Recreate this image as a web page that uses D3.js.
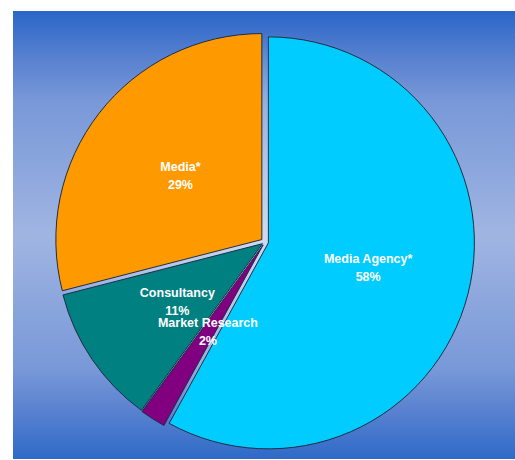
<!DOCTYPE html>
<html>
<head>
<meta charset="utf-8">
<script src="https://cdn.jsdelivr.net/npm/d3@7/dist/d3.min.js"></script>
<style>
  html, body { margin: 0; padding: 0; background: #ffffff; }
  svg { display: block; }
</style>
</head>
<body>
<svg id="chart" width="515" height="460"></svg>
<script>
// Share of respondents by sector
const categories = ["Media Agency*", "Market Research", "Consultancy", "Media*"];
const values = [58, 2, 11, 29];
const sliceColors = ["#00ccff", "#800080", "#008080", "#ff9900"];
const explode = [3.5, 3.5, 3, 4];

const svg = d3.select("#chart");
const panel = { x: 13, y: 11, w: 502, h: 448 };

const defs = svg.append("defs");

// vertical band: dark at top and bottom, light through the middle
const lg = defs.append("linearGradient")
  .attr("id", "bgVert").attr("x1", 0).attr("y1", 0).attr("x2", 0).attr("y2", 1);
[[0, "#2a66c8"], [0.11, "#5a82d0"], [0.2, "#7898d8"], [0.5, "#a0b5e2"],
 [0.8, "#7898d8"], [0.89, "#5a82d0"], [1, "#2e6ac8"]]
  .forEach(([o, c]) => lg.append("stop").attr("offset", o).attr("stop-color", c));

// soft light spot around the middle of the panel
const rg = defs.append("radialGradient")
  .attr("id", "bgGlow").attr("gradientUnits", "userSpaceOnUse")
  .attr("cx", 265).attr("cy", 240).attr("r", 210);
rg.append("stop").attr("offset", 0).attr("stop-color", "#ffffff").attr("stop-opacity", 0.5);
rg.append("stop").attr("offset", 0.6).attr("stop-color", "#ffffff").attr("stop-opacity", 0.25);
rg.append("stop").attr("offset", 1).attr("stop-color", "#ffffff").attr("stop-opacity", 0);

svg.append("rect").attr("x", panel.x).attr("y", panel.y)
  .attr("width", panel.w).attr("height", panel.h).attr("fill", "url(#bgVert)");
svg.append("rect").attr("x", panel.x).attr("y", panel.y)
  .attr("width", panel.w).attr("height", panel.h).attr("fill", "url(#bgGlow)");

const cx = 265, cy = 242, radius = 206;
const total = d3.sum(values);

const pie = d3.pie().sort(null).value(d => d).startAngle(0).endAngle(2 * Math.PI);
const arcs = pie(values);
const arc = d3.arc().innerRadius(0).outerRadius(radius);
const labelArc = d3.arc().innerRadius(radius * 0.5).outerRadius(radius * 0.5);

const g = svg.append("g").attr("transform", `translate(${cx},${cy})`);

// each slice is pulled out a little along its middle angle
const offset = (d, i) => {
  const mid = (d.startAngle + d.endAngle) / 2;
  return [Math.sin(mid) * explode[i], -Math.cos(mid) * explode[i]];
};

g.selectAll("path.slice")
  .data(arcs)
  .join("path")
  .attr("class", "slice")
  .attr("transform", (d, i) => { const [dx, dy] = offset(d, i); return `translate(${dx},${dy})`; })
  .attr("d", arc)
  .attr("fill", (d, i) => sliceColors[i])
  .attr("stroke", "#1e2d45")
  .attr("stroke-width", 1)
  .attr("stroke-linejoin", "miter");

const labels = g.selectAll("text.lbl")
  .data(arcs)
  .join("text")
  .attr("class", "lbl")
  .attr("transform", (d, i) => {
    const [x, y] = labelArc.centroid(d);
    const [dx, dy] = offset(d, i);
    return `translate(${x + dx},${y + dy})`;
  })
  .attr("text-anchor", "middle")
  .attr("font-family", "'Liberation Sans', Arial, sans-serif")
  .attr("font-weight", "bold")
  .attr("font-size", 12.5)
  .attr("fill", "#ffffff");

labels.append("tspan").attr("x", 0).attr("dy", "-0.4em").text((d, i) => categories[i]);
labels.append("tspan").attr("x", 0).attr("dy", "1.44em")
  .text(d => Math.round(d.value / total * 100) + "%");
</script>
</body>
</html>
